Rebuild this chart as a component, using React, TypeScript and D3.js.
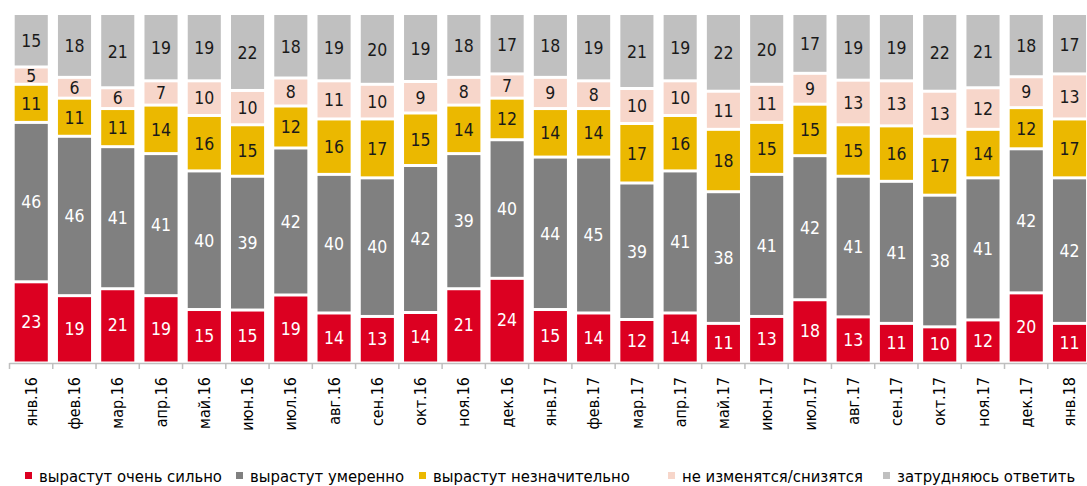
import React, { useEffect, useRef } from "react";
import * as d3 from "d3";

const categories = ["янв.16","фев.16","мар.16","апр.16","май.16","июн.16","июл.16","авг.16","сен.16","окт.16","ноя.16","дек.16","янв.17","фев.17","мар.17","апр.17","май.17","июн.17","июл.17","авг.17","сен.17","окт.17","ноя.17","дек.17","янв.18"];
const veryStrong = [23,19,21,19,15,15,19,14,13,14,21,24,15,14,12,14,11,13,18,13,11,10,12,20,11];
const moderate = [46,46,41,41,40,39,42,40,40,42,39,40,44,45,39,41,38,41,42,41,41,38,41,42,42];
const slight = [11,11,11,14,16,15,12,16,17,15,14,12,14,14,17,16,18,15,15,15,16,17,14,12,17];
const noChange = [5,6,6,7,10,10,8,11,10,9,8,7,9,8,10,10,11,11,9,13,13,13,12,9,13];
const hardToSay = [15,18,21,19,19,22,18,19,20,19,18,17,18,19,21,19,22,20,17,19,19,22,21,18,17];

const seriesNames = ["вырастут очень сильно","вырастут умеренно","вырастут незначительно","не изменятся/снизятся","затрудняюсь ответить"];
const seriesColors = ["#DC0021","#808080","#EBB800","#F7D6CA","#C0C0C0"];
const labelColors = ["#ffffff","#ffffff","#1a1a1a","#1a1a1a","#1a1a1a"];
const seriesValues = [veryStrong, moderate, slight, noChange, hardToSay];

const W = 1087, H = 486;
const FONT = "'DejaVu Sans Condensed', 'DejaVu Sans', sans-serif";

export default function App() {
  const ref = useRef<SVGSVGElement>(null);
  useEffect(() => {
    const svg = d3.select(ref.current);
    svg.selectAll("*").remove();
    const rows = categories.map((c, i) => {
      const r: any = { cat: c };
      seriesValues.forEach((s, k) => (r["s" + k] = s[i]));
      return r;
    });
    const keys = seriesValues.map((_, k) => "s" + k);
    const stacked = d3.stack().keys(keys).offset(d3.stackOffsetExpand)(rows);
    const x = d3.scaleBand().domain(categories).range([9.5, 9.5 + 25 * 43.27]).paddingInner(0.235).paddingOuter(0.12);
    const y = d3.scaleLinear().domain([0, 1]).range([361.5, 15]);
    const gap = 1.5;

    stacked.forEach((layer, k) => {
      const g = svg.append("g");
      layer.forEach((d: any, i) => {
        const x0 = x(categories[i])!;
        const yTop = y(d[1]) + (k === 4 ? 0 : gap);
        const yBot = y(d[0]) - (k === 0 ? 0 : gap);
        g.append("rect").attr("x", x0).attr("width", x.bandwidth())
          .attr("y", yTop).attr("height", Math.max(0, yBot - yTop))
          .attr("fill", seriesColors[k]);
        g.append("text").attr("x", x0 + x.bandwidth() / 2)
          .attr("y", (y(d[0]) + y(d[1])) / 2).attr("dy", "0.36em")
          .attr("text-anchor", "middle").attr("font-family", FONT)
          .attr("font-size", 17.5).attr("fill", labelColors[k])
          .text(seriesValues[k][i]);
      });
    });

    // axis
    const step = x.step();
    const xs = x.range()[0];
    const ax = svg.append("g");
    ax.append("line").attr("x1", xs).attr("x2", W + 10).attr("y1", 363.5).attr("y2", 363.5)
      .attr("stroke", "#BFBFBF").attr("stroke-width", 1.5);
    d3.range(categories.length + 1).forEach((i) => {
      ax.append("line").attr("x1", xs + i * step).attr("x2", xs + i * step)
        .attr("y1", 363).attr("y2", 369).attr("stroke", "#BFBFBF").attr("stroke-width", 1.5);
    });
    categories.forEach((c) => {
      const cx = x(c)! + x.bandwidth() / 2;
      ax.append("text").attr("transform", `translate(${cx},377) rotate(-90)`)
        .attr("text-anchor", "end").attr("dy", "0.35em")
        .attr("font-family", FONT).attr("font-size", 16).attr("fill", "#000")
        .text(c);
    });

    // legend
    const legX = [25, 236, 419, 668, 883];
    const lg = svg.append("g");
    seriesNames.forEach((n, k) => {
      lg.append("rect").attr("x", legX[k]).attr("y", 472).attr("width", 7).attr("height", 7)
        .attr("fill", seriesColors[k]);
      lg.append("text").attr("x", legX[k] + 14).attr("y", 482)
        .attr("font-family", FONT).attr("font-size", 16.5).attr("fill", "#000").text(n);
    });
  }, []);
  return (
    <svg ref={ref} width={W} height={H}
      style={{ position: "absolute", left: 0, top: 0, background: "#fff", overflow: "hidden" }} />
  );
}
